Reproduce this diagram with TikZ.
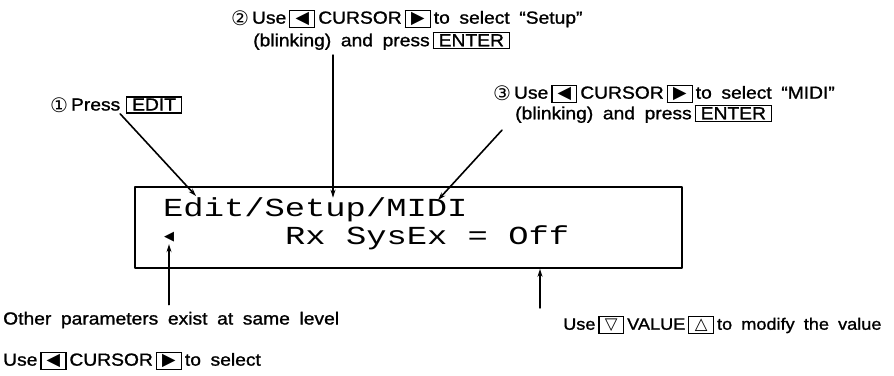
\documentclass[tikz,border=0pt]{standalone}
\usepackage{fontspec}
\setmainfont{Liberation Sans}[FakeStretch=1.1, WordSpace=1.8, FakeBold=1.2]
\newfontfamily\lcdfont{Liberation Mono}[FakeStretch=1.3]
\newfontfamily\symfont{DejaVu Sans}
\usetikzlibrary{arrows.meta}

\newcommand{\keycap}[1]{{\setlength{\fboxsep}{0.8pt}\setlength{\fboxrule}{1.3pt}\fbox{\rule[-1pt]{0pt}{12.5pt}#1}}}
\newcommand{\wordkey}[1]{\keycap{\hspace{4pt}#1\hspace{4pt}}}
\newcommand{\cursorleft}{\keycap{\makebox[22pt]{\symfont ◀}}}
\newcommand{\cursorright}{\keycap{\makebox[22pt]{\symfont ▶}}}
\newcommand{\valuedown}{\keycap{\makebox[22pt]{\symfont ▽}}}
\newcommand{\valueup}{\keycap{\makebox[22pt]{\symfont △}}}
\newcommand{\circnum}[1]{\raisebox{-2pt}{\symfont\fontsize{20}{20}\selectfont #1}}

\begin{document}
\begin{tikzpicture}[x=1pt, y=-1pt, line join=round, line cap=round,
  caption/.style={font=\fontsize{17.5}{20}\selectfont, inner sep=0pt, anchor=west},
  lcdtext/.style={font=\lcdfont\fontsize{26}{28}\selectfont, inner sep=0pt, anchor=west},
  pointer/.style={line width=1.6pt, -{Stealth[length=8pt, width=5pt]}}]
\useasboundingbox (0,0) rectangle (894,375);
\node[draw, line width=1.8pt, minimum width=547pt, minimum height=81pt] (lcd) at (408.5,227.5) {};
\node[lcdtext] (lineone) at (163,210) {Edit/Setup/MIDI};
\node[inner sep=0pt, font=\symfont\fontsize{13}{13}\selectfont] (lcdmark) at (169,237) {◀};
\node[lcdtext] (linetwo) at (285,238) {Rx SysEx = Off};
\node[caption] (stepone) at (50,105) {\circnum{①}\,Press\,\,\wordkey{EDIT}};
\node[caption] (steptwo) at (231,19) {\circnum{②}\,Use\,\cursorleft\,CURSOR\,\cursorright\,to select “Setup”};
\node[caption] (steptwob) at (253,41) {(blinking) and press\,\wordkey{ENTER}};
\node[caption] (stepthree) at (493,94) {\circnum{③}\,Use\,\cursorleft\,CURSOR\,\cursorright\,to select “MIDI”};
\node[caption] (stepthreeb) at (515,114) {(blinking) and press\,\wordkey{ENTER}};
\node[caption] (others) at (3,320) {Other parameters exist at same level};
\node[caption] (otherskey) at (3,361) {Use\,\cursorleft\,CURSOR\,\cursorright\,to select};
\node[caption, font=\fontsize{16.5}{19}\selectfont] (valuehint) at (563,325) {Use\,\valuedown\,VALUE\,\valueup\,to modify the value};
\coordinate (tipone) at (196,196);
\coordinate (tipthree) at (438,200);
\coordinate (twofoot) at ([xshift=80pt, yshift=-5pt]steptwob.south west);
\coordinate (threefoot) at ([xshift=-13pt, yshift=-7pt]stepthreeb.south west);
\coordinate (othersfoot) at ([yshift=7pt]others.north -| lcdmark.south);
\coordinate (valuefoot) at ([xshift=-23pt, yshift=8pt]valuehint.north west);
\draw[pointer] ([xshift=4pt]stepone.south) -- (tipone);
\draw[pointer] (twofoot) -- (twofoot |- lineone.north);
\draw[pointer] (threefoot) -- (tipthree);
\draw[pointer] (othersfoot) -- ([yshift=-2pt]lcdmark.south);
\draw[pointer] (valuefoot) -- (valuefoot |- lcd.south);
\end{tikzpicture}
\end{document}
